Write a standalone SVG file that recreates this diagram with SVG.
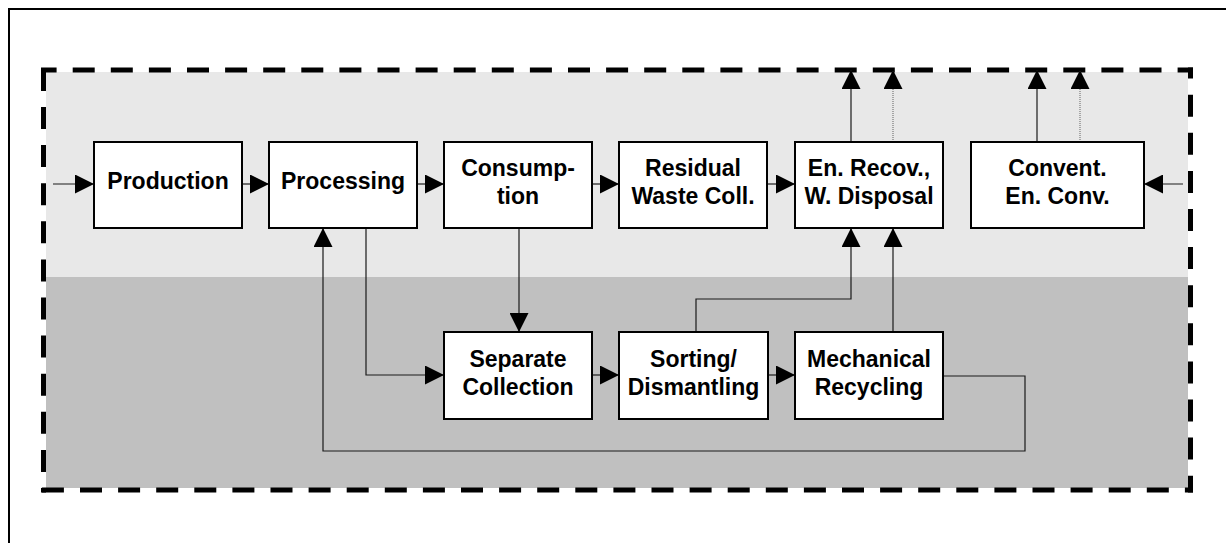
<svg xmlns="http://www.w3.org/2000/svg" width="1226" height="543" viewBox="0 0 1226 543">
<defs>
<marker id="ah" viewBox="0 0 20 20" refX="20" refY="10" markerWidth="20" markerHeight="19" markerUnits="userSpaceOnUse" orient="auto">
<path d="M0,0 L20,10 L0,20 z" fill="#000"/>
</marker>
<style>
.box{fill:#fff;stroke:#000;stroke-width:2}
.lbl{font-family:"Liberation Sans",Arial,sans-serif;font-weight:bold;font-size:23px;fill:#000;text-anchor:middle}
.ln{fill:none;stroke:#1a1a1a;stroke-width:1.2}
.arr{marker-end:url(#ah)}
.dot{fill:none;stroke:#777;stroke-width:1.2;stroke-dasharray:1 1}
.dash{fill:none;stroke:#000;stroke-width:5;stroke-dasharray:22 16.1}
</style>
</defs>
<rect x="0" y="0" width="1226" height="543" fill="#fff"/>
<path d="M9 543 V9 H1226" fill="none" stroke="#000" stroke-width="2"/>
<g id="boundary">
<rect x="46" y="72" width="1142" height="205" fill="#e8e8e8"/>
<rect x="46" y="277" width="1142" height="211" fill="#c0c0c0"/>
<path class="dash" d="M41 70 H1193" stroke-dashoffset="6.4"/>
<path class="dash" d="M43.5 67.5 V492.5" stroke-dashoffset="36.7"/>
<path class="dash" d="M1190.5 67.5 V492.5" stroke-dashoffset="10.9"/>
<path class="dash" d="M41 490 H1193" stroke-dashoffset="37.2"/>
</g>
<g id="connectors">
<path class="ln arr" d="M53 184 H94"/>
<path class="ln arr" d="M242 184 H269"/>
<path class="ln arr" d="M417 184 H444"/>
<path class="ln arr" d="M592 184 H619"/>
<path class="ln arr" d="M767 184 H795"/>
<path class="ln arr" d="M1183 184 H1144"/>
<path class="ln arr" d="M851 142 V70"/>
<path class="dot arr" d="M893 142 V70"/>
<path class="ln arr" d="M1037 142 V70"/>
<path class="dot arr" d="M1080 142 V70"/>
<path class="ln arr" d="M366 228 V375 H444"/>
<path class="ln arr" d="M519 228 V332"/>
<path class="ln arr" d="M592 375 H619"/>
<path class="ln arr" d="M768 375 H795"/>
<path class="ln arr" d="M696 332 V299 H851 V228"/>
<path class="ln arr" d="M893 332 V228"/>
<path class="ln arr" d="M943 376 H1025 V451 H323 V228"/>
</g>
<g id="production"><rect class="box" x="94" y="142" width="148" height="86"/><text class="lbl" x="168" y="189">Production</text></g>
<g id="processing"><rect class="box" x="269" y="142" width="148" height="86"/><text class="lbl" x="343" y="189">Processing</text></g>
<g id="consumption"><rect class="box" x="444" y="142" width="148" height="86"/><text class="lbl" x="518" y="176">Consump-</text><text class="lbl" x="518" y="204">tion</text></g>
<g id="residual"><rect class="box" x="619" y="142" width="148" height="86"/><text class="lbl" x="693" y="176">Residual</text><text class="lbl" x="693" y="204">Waste Coll.</text></g>
<g id="enrecov"><rect class="box" x="795" y="142" width="148" height="86"/><text class="lbl" x="869" y="176">En. Recov.,</text><text class="lbl" x="869" y="204">W. Disposal</text></g>
<g id="convent"><rect class="box" x="971" y="142" width="173" height="86"/><text class="lbl" x="1057.5" y="176">Convent.</text><text class="lbl" x="1057.5" y="204">En. Conv.</text></g>
<g id="separate"><rect class="box" x="444" y="332" width="148" height="87"/><text class="lbl" x="518" y="367">Separate</text><text class="lbl" x="518" y="395">Collection</text></g>
<g id="sorting"><rect class="box" x="619" y="332" width="149" height="87"/><text class="lbl" x="693.5" y="367">Sorting/</text><text class="lbl" x="693.5" y="395">Dismantling</text></g>
<g id="mechanical"><rect class="box" x="795" y="332" width="148" height="87"/><text class="lbl" x="869" y="367">Mechanical</text><text class="lbl" x="869" y="395">Recycling</text></g>
</svg>
